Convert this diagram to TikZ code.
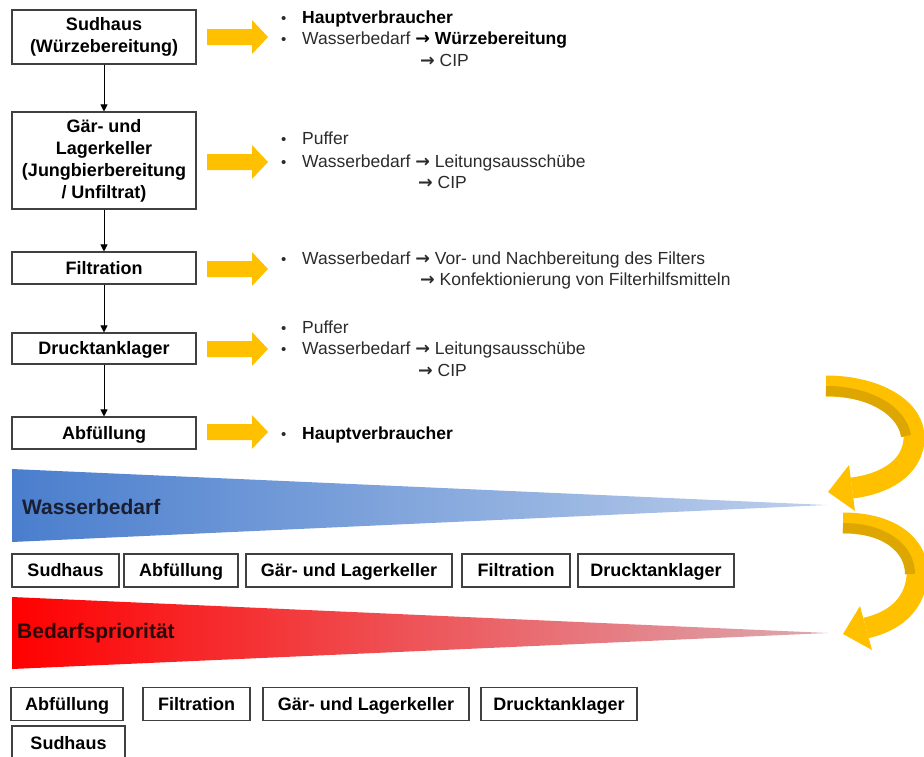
\documentclass[tikz,border=0pt]{standalone}
\usepackage{fontspec}
\setmainfont{Liberation Sans}
\newfontfamily\arrowfont{DejaVu Sans}
\usetikzlibrary{arrows.meta}
\definecolor{gold}{HTML}{FFC000}
\definecolor{golddark}{HTML}{DDA600}
\definecolor{boxline}{HTML}{404040}
\definecolor{txtgray}{HTML}{2B2B2B}
\definecolor{bluel}{RGB}{74,126,205}
\definecolor{bluer}{RGB}{190,208,236}
\definecolor{redr}{RGB}{220,170,178}
\newcommand\yarrow[1]{\fill[gold] (207,#1-8) -- (252,#1-8) -- (252,#1-17) -- (268,#1) -- (252,#1+17) -- (252,#1+8) -- (207,#1+8) -- cycle;}
\newcommand\rarr{{\arrowfont\bfseries →}}
\begin{document}
\begin{tikzpicture}[x=1pt,y=-1pt,
 pbox/.style={draw=boxline, line width=1.1pt, fill=white, inner sep=0pt, align=center, font=\bfseries\fontsize{18}{22}\selectfont, text=black, minimum width=184pt},
 onel/.style={text height=14pt, text depth=2pt},
 lbox/.style={draw=boxline, line width=1.1pt, fill=white, inner sep=0pt, font=\bfseries\fontsize{18}{22}\selectfont, text=black, minimum height=33pt, text height=14pt, text depth=2pt},
 txt/.style={anchor=base west, inner sep=0pt, font=\fontsize{17.5}{21}\selectfont, text=txtgray},
 bul/.style={anchor=base west, inner sep=0pt, font=\fontsize{15}{21}\selectfont, text=txtgray},
 conn/.style={-{Triangle[length=7pt,width=7pt]}, line width=0.8pt, black},
 trilabel/.style={anchor=west, inner sep=0pt, font=\bfseries\fontsize{21}{24}\selectfont}
]
\useasboundingbox (0,0) rectangle (924,756);

% process boxes
\node[pbox, minimum height=54pt] (sud) at (104,37) {Sudhaus\\(Würzebereitung)};
\node[pbox, minimum height=97pt] (gar) at (104,160.5) {Gär- und\\Lagerkeller\\(Jungbierbereitung\\/ Unfiltrat)};
\node[pbox, onel, minimum height=32pt] (fil) at (104,268) {Filtration};
\node[pbox, onel, minimum height=31pt] (dru) at (104,348.5) {Drucktanklager};
\node[pbox, onel, minimum height=32pt] (abf) at (104,433) {Abfüllung};

\draw[conn] (sud) -- (gar);
\draw[conn] (gar) -- (fil);
\draw[conn] (fil) -- (dru);
\draw[conn] (dru) -- (abf);

% yellow arrows
\yarrow{37}
\yarrow{162}
\yarrow{269}
\yarrow{349}
\yarrow{432}

% texts: Sudhaus
\node[bul] (b1a) at (281,23) {•};
\node[txt, text=black] (t1a) at (302,23) {\textbf{Hauptverbraucher}};
\node[bul] (b1b) at (281,44) {•};
\node[txt] (t1b) at (302,44) {Wasserbedarf \textcolor{black}{\rarr\ \textbf{Würzebereitung}}};
\node[txt] (t1c) at (420,66) {\rarr\ CIP};
% Gär
\node[bul] (b2a) at (281,144) {•};
\node[txt] (t2a) at (302,144) {Puffer};
\node[bul] (b2b) at (281,167) {•};
\node[txt] (t2b) at (302,167) {Wasserbedarf \rarr\ Leitungsausschübe};
\node[txt] (t2c) at (418,188) {\rarr\ CIP};
% Filtration
\node[bul] (b3a) at (281,264) {•};
\node[txt] (t3a) at (302,264) {Wasserbedarf \rarr\ Vor- und Nachbereitung des Filters};
\node[txt] (t3b) at (420,285) {\rarr\ Konfektionierung von Filterhilfsmitteln};
% Drucktank
\node[bul] (b4a) at (281,333) {•};
\node[txt] (t4a) at (302,333) {Puffer};
\node[bul] (b4b) at (281,354) {•};
\node[txt] (t4b) at (302,354) {Wasserbedarf \rarr\ Leitungsausschübe};
\node[txt] (t4c) at (418,376) {\rarr\ CIP};
% Abfuellung
\node[bul] (b5a) at (281,439) {•};
\node[txt, text=black] (t5a) at (302,439) {\textbf{Hauptverbraucher}};

% triangles
\shade[left color=bluel, right color=bluer] (12,469) -- (827,505) -- (12,542) -- cycle;
\node[trilabel, text={rgb,255:red,25;green,30;blue,50}] (wb) at (22,507) {Wasserbedarf};
\shade[left color=red, right color=redr] (12,597) -- (828,633) -- (12,669) -- cycle;
\node[trilabel, text={rgb,255:red,45;green,8;blue,8}] (bp) at (17,633) {Bedarfspriorität};

% bottom boxes row 1
\node[lbox, minimum width=107pt] (s1) at (65.5,570.5) {Sudhaus};
\node[lbox, minimum width=114pt] (a1) at (181,570.5) {Abfüllung};
\node[lbox, minimum width=206pt] (g1) at (349,570.5) {Gär- und Lagerkeller};
\node[lbox, minimum width=108pt] (f1) at (516,570.5) {Filtration};
\node[lbox, minimum width=156pt] (d1) at (656,570.5) {Drucktanklager};
% row 2
\node[lbox, minimum width=112pt] (a2) at (67,704) {Abfüllung};
\node[lbox, minimum width=107pt] (f2) at (196.5,704) {Filtration};
\node[lbox, minimum width=206pt] (g2) at (366,704) {Gär- und Lagerkeller};
\node[lbox, minimum width=156pt] (d2) at (559,704) {Drucktanklager};
% row 3
\node[lbox, minimum width=113pt, minimum height=34pt] (s3) at (68.5,743) {Sudhaus};

% curved arrow 1
\draw[gold, line width=21pt] (826,386) .. controls (875,386) and (916,408) .. (914,440) .. controls (912,468) and (885,484) .. (852,488);
\draw[golddark, line width=10pt] (826,391) .. controls (868,391) and (902,410) .. (906,436);
\fill[gold] (828,492) -- (849,465) -- (855,511) -- cycle;
% curved arrow 2
\draw[gold, line width=21pt] (843,523) .. controls (890,523) and (920,545) .. (917,577) .. controls (914,607) and (892,622) .. (866,628);
\draw[golddark, line width=10pt] (843,528) .. controls (884,528) and (910,548) .. (910,574);
\fill[gold] (843,634) -- (860,606) -- (872,650) -- cycle;
\end{tikzpicture}
\end{document}
